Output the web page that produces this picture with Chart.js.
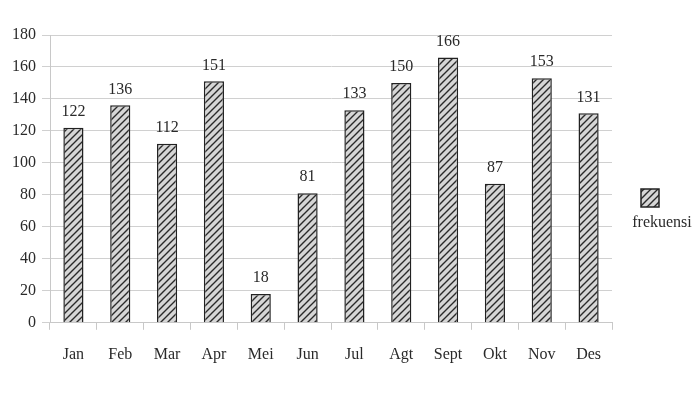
<!DOCTYPE html>
<html>
<head>
<meta charset="utf-8">
<script src="https://cdn.jsdelivr.net/npm/chart.js@4/dist/chart.umd.min.js"></script>
<style>
  html, body { margin: 0; padding: 0; background: #fff; }
  #wrap { width: 700px; height: 393px; }
</style>
</head>
<body>
<div id="wrap"><canvas id="c" width="700" height="393"></canvas></div>
<script>
// data
const months = ['Jan', 'Feb', 'Mar', 'Apr', 'Mei', 'Jun', 'Jul', 'Agt', 'Sept', 'Okt', 'Nov', 'Des'];
const frekuensi = [122, 136, 112, 151, 18, 81, 133, 150, 166, 87, 153, 131];
const seriesName = 'frekuensi';

const FONT = '"Liberation Serif", "DejaVu Serif", serif';
const TXT = '#2a2a2a';

// hatch fill: light grey with "/" lines
function hatch() {
  const s = 7;
  const cv = document.createElement('canvas');
  cv.width = s; cv.height = s;
  const g = cv.getContext('2d');
  g.fillStyle = '#d6d6d6';
  g.fillRect(0, 0, s, s);
  g.strokeStyle = '#2a2a2a';
  g.lineWidth = 1.4;
  g.beginPath();
  g.moveTo(0, s); g.lineTo(s, 0);
  g.moveTo(-s / 2, s / 2); g.lineTo(s / 2, -s / 2);
  g.moveTo(s / 2, s * 1.5); g.lineTo(s * 1.5, s / 2);
  g.stroke();
  return g.createPattern(cv, 'repeat');
}

const valueLabels = {
  id: 'valueLabels',
  afterDatasetsDraw(chart) {
    const ctx = chart.ctx;
    const meta = chart.getDatasetMeta(0);
    ctx.save();
    ctx.font = '16px ' + FONT;
    ctx.fillStyle = TXT;
    ctx.textAlign = 'center';
    ctx.textBaseline = 'bottom';
    meta.data.forEach((bar, i) => {
      ctx.fillText(String(frekuensi[i]), bar.x, bar.y - 8);
    });
    ctx.restore();
  }
};

// legend: box with name underneath, right side
const sideLegend = {
  id: 'sideLegend',
  afterDraw(chart) {
    const ctx = chart.ctx;
    const a = chart.chartArea;
    const bx = a.right + 29, by = a.top + 154;
    ctx.save();
    ctx.fillStyle = chart.data.datasets[0].backgroundColor;
    ctx.fillRect(bx, by, 18, 18);
    ctx.strokeStyle = '#222';
    ctx.lineWidth = 1.5;
    ctx.strokeRect(bx, by, 18, 18);
    ctx.font = '16px ' + FONT;
    ctx.fillStyle = TXT;
    ctx.textAlign = 'center';
    ctx.textBaseline = 'alphabetic';
    ctx.fillText(seriesName, a.right + 50, by + 38);
    ctx.restore();
  }
};

new Chart(document.getElementById('c'), {
  type: 'bar',
  data: {
    labels: months,
    datasets: [{
      label: seriesName,
      data: frekuensi,
      backgroundColor: hatch(),
      borderColor: '#222',
      borderWidth: 1.5,
      barPercentage: 0.86,
      categoryPercentage: 0.5,
    }]
  },
  options: {
    responsive: false,
    animation: false,
    layout: { padding: { top: 35, right: 88, bottom: 14, left: 6 } },
    plugins: { legend: { display: false }, tooltip: { enabled: false } },
    scales: {
      x: {
        offset: true,
        grid: { offset: true, drawOnChartArea: false, color: '#c8c8c8', tickLength: 7 },
        border: { color: '#c8c8c8' },
        ticks: { font: { family: FONT, size: 16 }, color: TXT, padding: 15 },
      },
      y: {
        min: 0, max: 180,
        ticks: { stepSize: 20, font: { family: FONT, size: 16 }, color: TXT, padding: 6 },
        grid: { color: '#d0d0d0', tickLength: 8 },
        border: { color: '#c8c8c8' },
      }
    }
  },
  plugins: [valueLabels, sideLegend]
});
</script>
</body>
</html>
